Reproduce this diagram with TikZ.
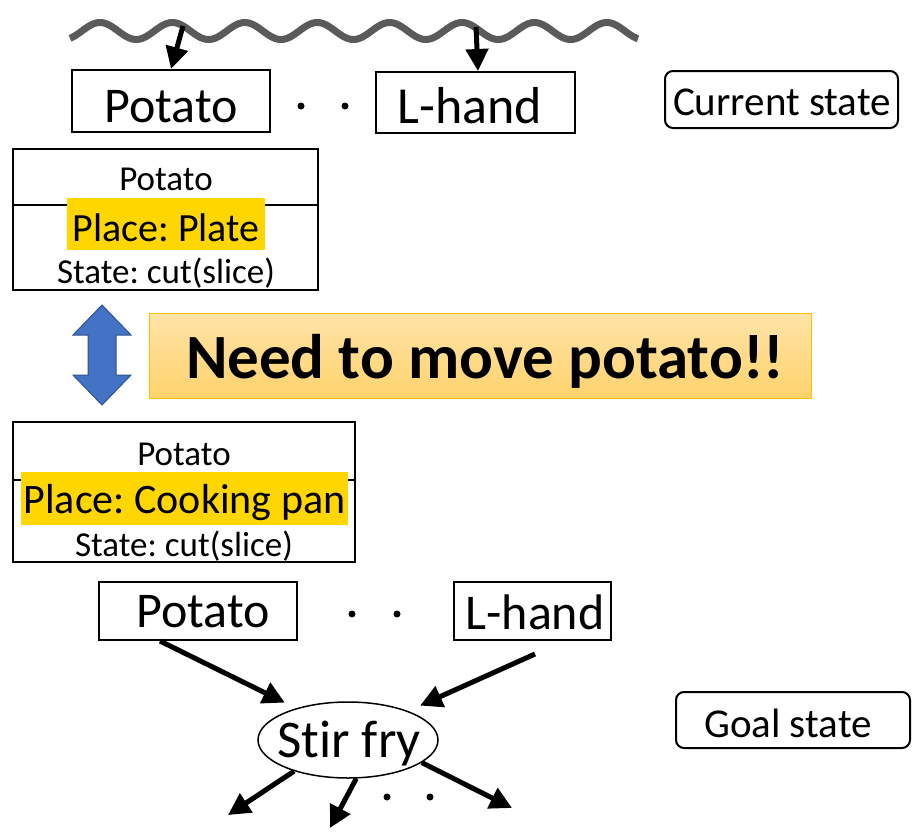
\documentclass[tikz,border=0pt]{standalone}
\usepackage{fontspec}
\setmainfont[Ligatures={NoCommon,NoContextual}]{Carlito}
\usetikzlibrary{arrows.meta,shapes.geometric,calc}
\definecolor{wavegray}{HTML}{5A5A5A}
\definecolor{hl}{HTML}{FFD600}
\definecolor{arrowblue}{HTML}{4472C4}
\definecolor{arrowedge}{HTML}{2F528F}
\definecolor{bannertop}{HTML}{FFE3A8}
\definecolor{bannerbot}{HTML}{FFD36C}
\definecolor{banneredge}{HTML}{FFC000}
\frenchspacing
\begin{document}
\begin{tikzpicture}[x=1pt,y=-1pt,
  box/.style={draw, line width=2pt, inner sep=0pt},
  tagbox/.style={draw, line width=2pt, rounded corners=8pt, inner sep=0pt},
  hlbar/.style={fill=hl, inner sep=0pt},
  txt/.style={inner sep=0pt, anchor=base, font=\fontsize{#1}{#1}\selectfont},
  dotmark/.style={circle, fill=black, inner sep=0pt, minimum size=7pt},
  arr/.style={line width=5pt, -{Triangle[length=22pt,width=22pt]}}]
\useasboundingbox (0,0) rectangle (913,836);

% wavy line standing for the scene
\draw[wavegray, line width=7pt]
  plot[domain=70:638, samples=300] (\x, {31 - 8.5*sin((\x-81.9)/72.4*360)});
\coordinate (w1) at (183,26);
\coordinate (w2) at (476,27);

% current state objects
\node[box, minimum width=198pt, minimum height=62pt] (ptop) at (171,101) {};
\node[txt=50] (ptopt) at (171,122) {Potato};
\node[box, minimum width=199pt, minimum height=61pt] (ltop) at (475.5,102.5) {};
\node[txt=52] (ltopt) at (470,123) {L-hand};
\node[dotmark] (d1) at (301,106) {};
\node[dotmark] (d2) at (345,106) {};
\draw[arr] (w1) -- (ptop.north);
\draw[arr] (w2) -- ($(ltop.north)+(2.5,0)$);

\node[tagbox, minimum width=233pt, minimum height=57pt] (cur) at (781.5,99.5) {};
\node[txt=41] (curt) at (782,115) {Current state};

% potato attributes, current
\node[box, minimum width=305pt, minimum height=56pt] (s1head) at (165.5,177) {};
\node[box, minimum width=305pt, minimum height=85pt] (s1body) at (165.5,247.5) {};
\node[hlbar, minimum width=198pt, minimum height=52pt] (s1bar) at (166,224) {};
\node[txt=35] (s1name) at (166,190) {Potato};
\node[txt=40] (s1place) at (166,241) {Place: Plate};
\node[txt=35] (s1state) at (166,283) {State: cut(slice)};

% difference marker
\path[fill=arrowblue, draw=arrowedge, line width=1pt]
  (102,305) -- (131,335) -- (116,335) -- (116,375) -- (131,375) -- (102,405)
  -- (73,375) -- (88,375) -- (88,335) -- (73,335) -- cycle;
\node[draw=banneredge, line width=1pt, top color=bannertop, bottom color=bannerbot,
      minimum width=662pt, minimum height=85pt, inner sep=0pt] (need) at (480,355.5) {};
\node[txt=63, font=\fontsize{63}{63}\selectfont\bfseries] (needt) at (485,378) {Need to move potato!!};

% potato attributes, goal
\node[box, minimum width=342pt, minimum height=58pt] (s2head) at (184,451) {};
\node[box, minimum width=342pt, minimum height=82pt] (s2body) at (184,521) {};
\node[hlbar, minimum width=327pt, minimum height=53pt] (s2bar) at (184.5,498.5) {};
\node[txt=35] (s2name) at (184,465) {Potato};
\node[txt=42] (s2place) at (184.5,513) {Place: Cooking pan};
\node[txt=35] (s2state) at (184,556) {State: cut(slice)};

% goal state objects and action
\node[box, minimum width=198pt, minimum height=58pt] (pbot) at (198,611) {};
\node[txt=50] (pbott) at (203,627) {Potato};
\node[box, minimum width=157pt, minimum height=58pt] (lbot) at (532.5,611) {};
\node[txt=50] (lbott) at (535,629) {L-hand};
\node[dotmark] (d3) at (352,614) {};
\node[dotmark] (d4) at (397,614) {};

\node[draw, ellipse, line width=1.5pt, minimum width=180pt, minimum height=76pt, inner sep=0pt] (fry) at (348,740) {};
\node[txt=53] (fryt) at (349,757) {Stir fry};

\draw[arr] ($(pbot.south)+(-38,0)$) -- ($(fry.north west)+(1,-10)$);
\draw[arr] ($(lbot.south)+(2.5,13)$) -- ($(fry.north east)+(8,-7)$);

\coordinate (o1) at (228,815);
\coordinate (o2) at (330,828);
\coordinate (o3) at (512,808);
\draw[arr] (fry.210) -- (o1);
\draw[arr] (fry.282) -- (o2);
\draw[arr] (fry.343) -- (o3);
\node[dotmark] (d5) at (387,797) {};
\node[dotmark] (d6) at (430,797) {};

\node[tagbox, minimum width=234pt, minimum height=56pt] (goal) at (793,720) {};
\node[txt=41] (goalt) at (788,737) {Goal state};
\end{tikzpicture}
\end{document}
